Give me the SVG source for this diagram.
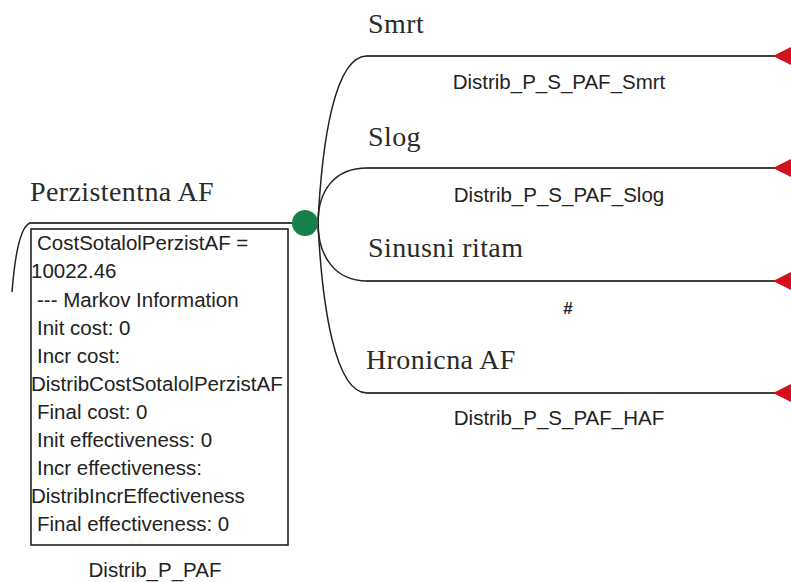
<svg xmlns="http://www.w3.org/2000/svg" width="791" height="582" viewBox="0 0 791 582">
  <style>
    .state { font-family: "Liberation Serif", "Times New Roman", serif; font-size: 28px; letter-spacing: 0.4px; fill: #2a2a2a; }
    .lbl { font-family: "Liberation Sans", Arial, sans-serif; font-size: 20.5px; fill: #222; }
    .hash { font-family: "Liberation Sans", Arial, sans-serif; font-size: 17px; font-weight: bold; fill: #222; }
    .branch { fill: none; stroke: #404040; stroke-width: 2.2; }
    .curve { fill: none; stroke: #222; stroke-width: 1.5; }
    .term { fill: #d0121f; }
    .chance { fill: #17804a; }
    .info { fill: #fff; stroke: #222; stroke-width: 1.6; }
  </style>

  <g id="connectors">
    <path class="curve" d="M 12 292 Q 17 228 30 223"/>
    <path class="branch" d="M 29 223 H 296"/>
    <path class="curve" d="M 318 223 C 322 140, 335 56, 367 56"/>
    <path class="curve" d="M 318 223 C 318 190, 335 168, 367 168"/>
    <path class="curve" d="M 318 223 C 318 256, 335 281, 367 281"/>
    <path class="curve" d="M 318 223 C 322 306, 335 393, 367 393"/>
    <path class="branch" d="M 366 56 H 776"/>
    <path class="branch" d="M 366 168 H 776"/>
    <path class="branch" d="M 366 281 H 776"/>
    <path class="branch" d="M 366 393 H 776"/>
  </g>

  <g id="node-perzistentna">
    <text class="state" x="30" y="201">Perzistentna AF</text>
    <rect class="info" x="31" y="229" width="257" height="316"/>
    <text class="lbl" x="37" y="250">CostSotalolPerzistAF =</text>
    <text class="lbl" x="31" y="278">10022.46</text>
    <text class="lbl" x="37" y="306.5">--- Markov Information</text>
    <text class="lbl" x="37" y="334.5">Init cost: 0</text>
    <text class="lbl" x="37" y="362.5">Incr cost:</text>
    <text class="lbl" x="31" y="390.5">DistribCostSotalolPerzistAF</text>
    <text class="lbl" x="37" y="418.5">Final cost: 0</text>
    <text class="lbl" x="37" y="446.5">Init effectiveness: 0</text>
    <text class="lbl" x="37" y="474.5">Incr effectiveness:</text>
    <text class="lbl" x="31" y="503">DistribIncrEffectiveness</text>
    <text class="lbl" x="37" y="530.5">Final effectiveness: 0</text>
    <text class="lbl" x="155" y="577" text-anchor="middle">Distrib_P_PAF</text>
  </g>

  <g id="chance-node">
    <circle class="chance" cx="305" cy="223" r="13"/>
  </g>

  <g id="node-smrt">
    <text class="state" x="368" y="33">Smrt</text>
    <polygon class="term" points="773,56 791,47 791,65"/>
    <text class="lbl" x="559" y="89" text-anchor="middle">Distrib_P_S_PAF_Smrt</text>
  </g>

  <g id="node-slog">
    <text class="state" x="368" y="146">Slog</text>
    <polygon class="term" points="773,168 791,159 791,177"/>
    <text class="lbl" x="559" y="201.5" text-anchor="middle">Distrib_P_S_PAF_Slog</text>
  </g>

  <g id="node-sinusni">
    <text class="state" x="368" y="257">Sinusni ritam</text>
    <polygon class="term" points="773,281 791,272 791,290"/>
    <text class="hash" x="568" y="314" text-anchor="middle">#</text>
  </g>

  <g id="node-hronicna">
    <text class="state" x="366" y="369">Hronicna AF</text>
    <polygon class="term" points="773,393 791,384 791,402"/>
    <text class="lbl" x="559" y="425" text-anchor="middle">Distrib_P_S_PAF_HAF</text>
  </g>
</svg>
